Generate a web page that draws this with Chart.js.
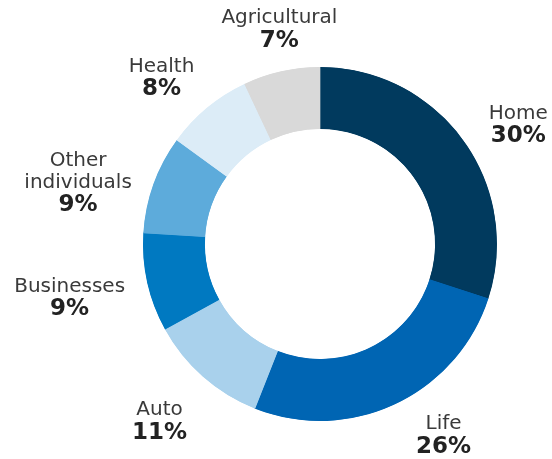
<!DOCTYPE html>
<html>
<head>
<meta charset="utf-8">
<script src="https://cdn.jsdelivr.net/npm/chart.js@4.4.1/dist/chart.umd.min.js"></script>
<style>
  html, body { margin: 0; padding: 0; background: #fff; }
  #wrap { width: 552px; height: 459px; }
</style>
</head>
<body>
<div id="wrap"><canvas id="mixChart" width="552" height="459"></canvas></div>
<script>
// premium mix by line of business, clockwise from 12 o'clock
const categories = ['Home', 'Life', 'Auto', 'Businesses', 'Other individuals', 'Health', 'Agricultural'];
const shares = [30, 26, 11, 9, 9, 8, 7];
const colors = ['#013a5e', '#0065b3', '#a9d1ec', '#0079c1', '#5dabdb', '#dcecf7', '#d9d9d9'];

// small hand adjustments so each label sits where it reads best
const labelNudge = [[15, 10], [28, -7], [-12, 13], [-4, 6], [-6, 17], [-12, 3], [15, 0]];

const outsideLabels = {
  id: 'outsideLabels',
  afterDatasetsDraw(chart) {
    const ctx = chart.ctx;
    const arcs = chart.getDatasetMeta(0).data;
    const nameFont = '20px "DejaVu Sans", sans-serif';
    const pctFont = 'bold 23px "DejaVu Sans", sans-serif';
    const gap = 20;
    ctx.save();
    ctx.textAlign = 'center';
    ctx.textBaseline = 'middle';
    arcs.forEach((arc, i) => {
      const mid = (arc.startAngle + arc.endAngle) / 2;
      const dx = Math.cos(mid), dy = Math.sin(mid);
      const lines = categories[i].split(' ');
      const pct = shares[i] + '%';

      ctx.font = nameFont;
      let w = Math.max(...lines.map(l => ctx.measureText(l).width));
      ctx.font = pctFont;
      w = Math.max(w, ctx.measureText(pct).width);
      const h = lines.length * 22 + 23;

      const cx = arc.x + dx * (arc.outerRadius + gap) + dx * w / 2 + labelNudge[i][0];
      const cy = arc.y + dy * (arc.outerRadius + gap) + dy * h / 2 + labelNudge[i][1];

      let y = cy - h / 2 + 11;
      ctx.font = nameFont;
      ctx.fillStyle = '#3a3a3a';
      lines.forEach(l => {
        ctx.fillText(l, cx, y);
        y += 22;
      });
      ctx.font = pctFont;
      ctx.fillStyle = '#222';
      ctx.fillText(pct, cx, y + 1);
    });
    ctx.restore();
  }
};

new Chart(document.getElementById('mixChart'), {
  type: 'doughnut',
  data: {
    labels: categories,
    datasets: [{
      data: shares,
      backgroundColor: colors,
      // stroke in the fill colour hides the hairline seams between slices
      borderColor: colors,
      borderWidth: 1,
      borderAlign: 'inner',
      hoverOffset: 0,
      offset: 0
    }]
  },
  options: {
    responsive: false,
    animation: false,
    cutout: '65%',
    layout: {
      padding: { left: 143, top: 67, right: 55, bottom: 38 }
    },
    plugins: {
      legend: { display: false },
      tooltip: { enabled: false }
    }
  },
  plugins: [outsideLabels]
});
</script>
</body>
</html>
